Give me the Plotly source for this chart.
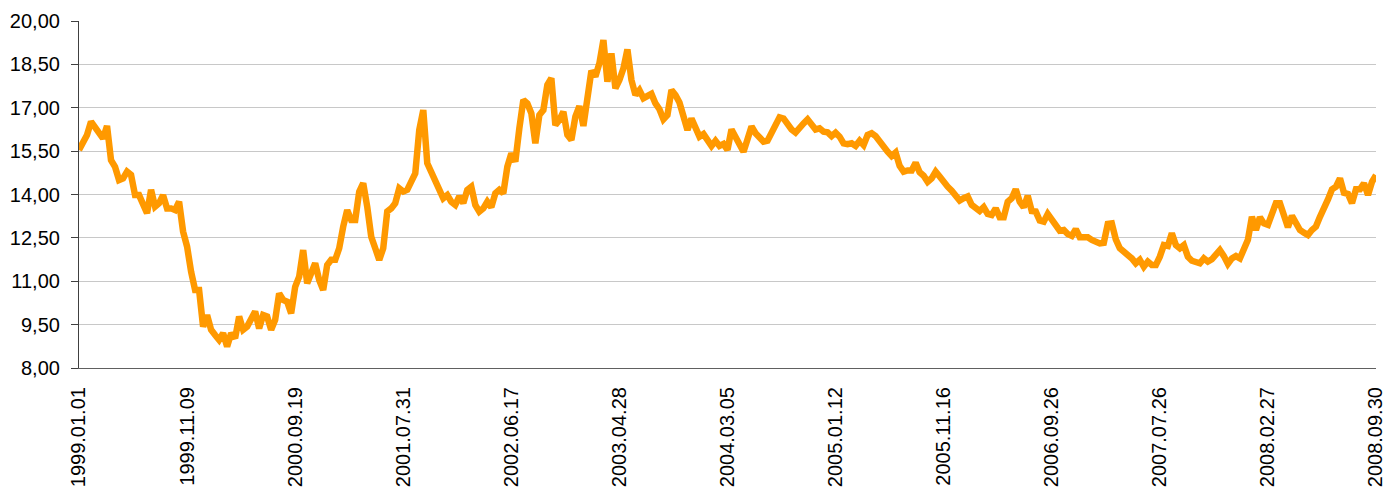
import plotly.graph_objects as go

# Tick labels (dates) shown along the category axis
tick_labels = ["1999.01.01", "1999.11.09", "2000.09.19", "2001.07.31", "2002.06.17",
               "2003.04.28", "2004.03.05", "2005.01.12", "2005.11.16", "2006.09.26",
               "2007.07.26", "2008.02.27", "2008.09.30"]

# Values, evenly spaced along the axis
values_1999 = [15.54, 15.77, 16.06, 16.52, 16.32, 16.08, 15.94, 16.37, 15.19, 14.96,
               14.50, 14.56, 14.79, 14.68, 13.98, 13.98, 13.64, 13.35, 14.16, 13.58,
               13.70, 13.98, 13.52, 13.52, 13.46, 13.75, 12.72, 12.20, 11.33, 10.70,
               10.70, 9.43, 9.83, 9.32, 9.14, 8.97, 9.20, 8.74, 9.20, 9.03,
               9.78, 9.32, 9.43, 9.66, 9.95, 9.37, 9.83, 9.78, 9.32, 9.66,
               10.58]
values_2000 = [10.35, 10.29, 9.89, 10.81, 11.16, 12.08, 10.93, 11.27, 11.62, 11.04,
               10.70, 11.56, 11.74, 11.74, 12.14, 12.89, 13.46, 13.12, 13.12, 14.10,
               14.39, 13.58, 12.54, 12.14, 11.74, 12.14, 13.41, 13.52, 13.70, 14.21,
               14.10, 14.16, 14.44, 14.73, 16.23, 16.92, 15.08, 14.79, 14.50, 14.21,
               13.87, 13.98, 13.75, 13.64, 13.93, 13.70, 14.16, 14.27, 13.64, 13.41,
               13.52, 13.75]
values_2002 = [13.56, 14.04, 14.16, 14.04, 14.96, 15.42, 15.14, 16.29, 17.27, 17.15,
               16.81, 15.77, 16.75, 16.92, 17.79, 18.02, 16.40, 16.58, 16.86, 16.06,
               15.89, 16.69, 17.06, 16.37, 17.38, 18.28, 18.08, 18.54, 19.34, 17.90,
               18.88, 17.67, 17.96, 18.36, 19.02, 17.96, 17.44, 17.61, 17.33, 17.38,
               17.48, 17.15, 16.95, 16.60, 16.75, 17.61, 17.44, 17.18, 16.58, 16.23,
               16.63, 16.29, 16.00]
values_2004 = [16.09, 15.89, 15.68, 15.86, 15.68, 15.75, 15.54, 16.25, 16.00, 15.68,
               15.48, 15.91, 16.35, 16.12, 15.94, 15.83, 15.86, 16.17, 16.48, 16.67,
               16.63, 16.40, 16.25, 16.14, 16.35, 16.46, 16.60, 16.44, 16.25, 16.29,
               16.17, 16.15, 16.02, 16.14, 16.00, 15.77, 15.74, 15.77, 15.68, 15.86,
               15.71, 16.06, 16.12, 16.02, 15.81, 15.60, 15.48, 15.33, 15.45, 14.99,
               14.79, 14.83]
values_2005 = [14.83, 15.10, 14.77, 14.65, 14.44, 14.56, 14.79, 14.62, 14.41, 14.27,
               14.13, 13.98, 13.79, 13.87, 13.93, 13.64, 13.52, 13.43, 13.56, 13.33,
               13.29, 13.52, 13.21, 13.21, 13.75, 13.87, 14.18, 13.75, 13.56, 13.95,
               13.43, 13.41, 13.10, 13.06, 13.33, 13.14, 12.89, 12.75, 12.77, 12.63,
               12.57, 12.80, 12.52, 12.52, 12.52, 12.43, 12.37, 12.31, 12.33, 12.98,
               13.00, 12.45, 12.14]
values_2007 = [12.02, 11.94, 11.79, 11.62, 11.74, 11.50, 11.68, 11.56, 11.56, 11.85,
               12.25, 12.22, 12.66, 12.25, 12.14, 12.25, 11.85, 11.71, 11.64, 11.62,
               11.79, 11.68, 11.76, 11.97, 12.08, 11.87, 11.60, 11.79, 11.87, 11.79,
               12.06, 12.43, 13.23, 12.77, 13.21, 13.00, 12.95, 13.41, 13.70, 13.70,
               13.26, 12.87, 13.26, 13.06, 12.77, 12.68, 12.60, 12.77, 12.89, 13.23,
               13.49, 13.83, 14.18, 14.27, 14.56, 14.06, 14.02, 13.70, 14.18, 14.18,
               14.39, 13.98, 14.44, 14.67]

values = values_1999 + values_2000 + values_2002 + values_2004 + values_2005 + values_2007
n = len(values)
x_idx = list(range(n))
step = (n - 1) / (len(tick_labels) - 1)
tick_pos = [k * step for k in range(len(tick_labels))]

fig = go.Figure()
fig.add_trace(go.Scatter(
    x=x_idx, y=values, mode="lines",
    line=dict(color="#FF9900", width=6.5, shape="linear"),
    hoverinfo="skip", showlegend=False,
))

font_family = "Liberation Sans, Arial, sans-serif"
fig.update_layout(
    width=1396, height=491,
    margin=dict(l=79, r=20, t=21, b=123),
    paper_bgcolor="white", plot_bgcolor="white",
    separators=", ",
    font=dict(family=font_family, color="#000000"),
)
fig.update_xaxes(
    automargin=False,
    range=[0, n - 1],
    tickmode="array", tickvals=tick_pos, ticktext=tick_labels,
    tickangle=-90, tickfont=dict(size=20, family=font_family, color="#000000"),
    showgrid=False, zeroline=False,
    showline=True, linecolor="#606060", linewidth=1.2,
    ticks="outside", ticklen=8, tickcolor="rgba(0,0,0,0)",
    ticklabelstandoff=2,
)
fig.update_yaxes(
    automargin=False,
    range=[8, 20], tick0=8, dtick=1.5, tickformat=".2f",
    tickfont=dict(size=20, family=font_family, color="#000000"),
    showgrid=True, gridcolor="#c8c8c8", gridwidth=1.2,
    zeroline=False,
    showline=True, linecolor="#404040", linewidth=1.2,
    ticks="outside", ticklen=7, tickcolor="#404040", tickwidth=1.2,
    ticklabelstandoff=7,
)

fig.write_html(
    "out.html",
    config={"displayModeBar": False},
    post_script="document.body.style.margin='0';document.body.style.overflow='hidden';",
)
